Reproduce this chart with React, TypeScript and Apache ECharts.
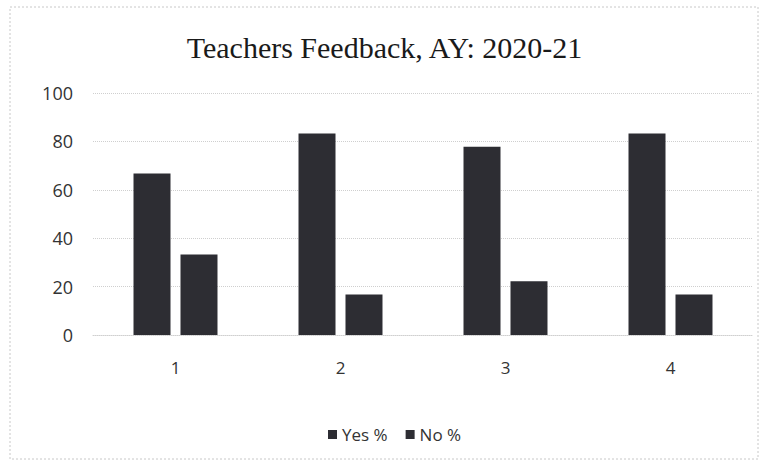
import React, { useEffect, useRef } from "react";
import * as echarts from "echarts";

const categories = ["1", "2", "3", "4"];
const yesValues = [66.7, 83.3, 77.8, 83.3];
const noValues = [33.3, 16.7, 22.2, 16.7];
const seriesNames = ["Yes %", "No %"];

export default function App() {
  const ref = useRef<HTMLDivElement>(null);
  useEffect(() => {
    if (!ref.current) return;
    const chart = echarts.init(ref.current, null, { renderer: "svg" });
    const barColor = "#2d2d33";
    chart.setOption({
      animation: false,
      backgroundColor: "#ffffff",
      title: {
        text: "Teachers Feedback, AY: 2020-21",
        left: "center",
        top: 27,
        textStyle: {
          fontFamily: "Liberation Serif",
          fontWeight: "normal",
          fontSize: 30,
          color: "#1a1a1a",
        },
      },
      graphic: [
        {
          type: "rect",
          shape: { x: 10, y: 7, width: 748, height: 452 },
          style: { fill: "none", stroke: "#c8c8c8", lineWidth: 1, lineDash: [2, 2] },
          silent: true,
        },
      ],
      grid: { left: 93, right: 16, top: 93, bottom: 131 },
      legend: {
        bottom: 18,
        left: 323,
        itemWidth: 9,
        itemHeight: 9,
        itemGap: 18,
        icon: "rect",
        textStyle: { fontFamily: "Open Sans", fontSize: 17, color: "#333" },
        data: seriesNames,
      },
      xAxis: {
        type: "category",
        data: categories,
        axisLine: { show: true, lineStyle: { color: "#d0d0d0", type: "dotted" } },
        axisTick: { show: false },
        axisLabel: { fontFamily: "Open Sans", fontSize: 17, color: "#333", margin: 24 },
      },
      yAxis: {
        type: "value",
        min: 0,
        max: 100,
        interval: 20,
        axisLine: { show: false },
        axisTick: { show: false },
        axisLabel: { fontFamily: "Open Sans", fontSize: 18, color: "#333", margin: 20 },
        splitLine: { lineStyle: { color: "#cfcfcf", type: "dotted" } },
      },
      series: [
        {
          name: seriesNames[0],
          type: "bar",
          data: yesValues,
          itemStyle: { color: barColor },
          barWidth: 37,
          barGap: "27%",
        },
        {
          name: seriesNames[1],
          type: "bar",
          data: noValues,
          itemStyle: { color: barColor },
          barWidth: 37,
          barGap: "27%",
        },
      ],
    });
    return () => chart.dispose();
  }, []);
  return (
    <div
      ref={ref}
      style={{ position: "fixed", left: 0, top: 0, width: 769, height: 466 }}
    />
  );
}
